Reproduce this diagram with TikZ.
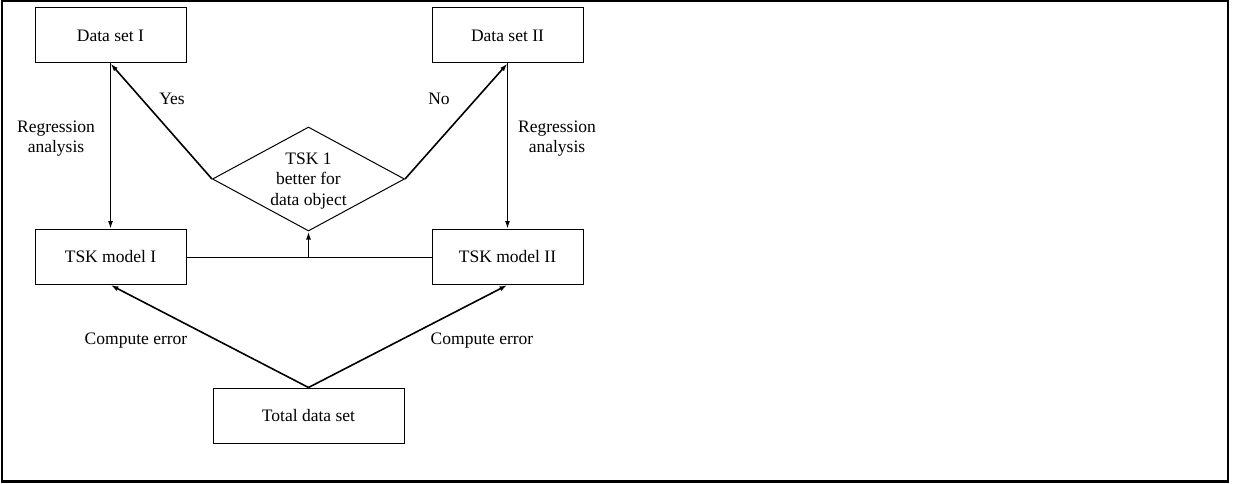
\documentclass[tikz,border=0pt]{standalone}
\usepackage{fontspec}
\setmainfont{Liberation Serif}
\usetikzlibrary{arrows.meta,shapes.geometric}
\begin{document}
\begin{tikzpicture}[x=1pt,y=-1pt,
  font=\fontsize{17.5}{20}\selectfont,
  box/.style={draw,line width=1pt,minimum width=151pt,minimum height=55pt,inner sep=0pt},
  dec/.style={draw,line width=1pt,diamond,minimum width=192pt,minimum height=104pt,inner sep=0pt,align=center,aspect=1.85},
  arr/.style={line width=1.6pt,-{Latex[length=8pt,width=5pt]}},
  lbl/.style={align=center,inner sep=0pt}]
\useasboundingbox (0,0) rectangle (1234,484);
\draw[line width=2.5pt] (2,1.2) rectangle (1228,481.5);
\node[box] (d1) at (110.5,35.5) {Data set I};
\node[box] (d2) at (507.5,35.5) {Data set II};
\node[box] (m1) at (110.5,257) {TSK model I};
\node[box] (m2) at (507.5,257) {TSK model II};
\node[box,minimum width=191pt] (t) at (308.5,415.5) {Total data set};
\node[dec] (dia) at (308.5,179) {};
\node[lbl,font=\fontsize{17.5}{20.5}\selectfont] (dtxt) at (308.5,181) {TSK 1\\better for\\data object};
\coordinate (mj) at (308.5,257);
\draw[arr] (dia.west) -- (d1.south);
\draw[arr] (dia.east) -- (d2.south);
\draw[arr] (d1.south) -- (m1.north);
\draw[arr] (d2.south) -- (m2.north);
\draw[line width=0.8pt] (m1.east) -- (m2.west);
\draw[arr] (mj) -- (dia.south);
\draw[arr] (t.north) -- (m1.south);
\draw[arr] (t.north) -- (m2.south);
\node[lbl] (yes) at (172,99) {Yes};
\node[lbl] (no) at (439,99) {No};
\node[lbl] (ra1) at (56,139) {Regression\\analysis};
\node[lbl] (ra2) at (557,139) {Regression\\analysis};
\node[lbl] (ce1) at (136,341) {Compute error};
\node[lbl] (ce2) at (482,341) {Compute error};
\end{tikzpicture}
\end{document}
